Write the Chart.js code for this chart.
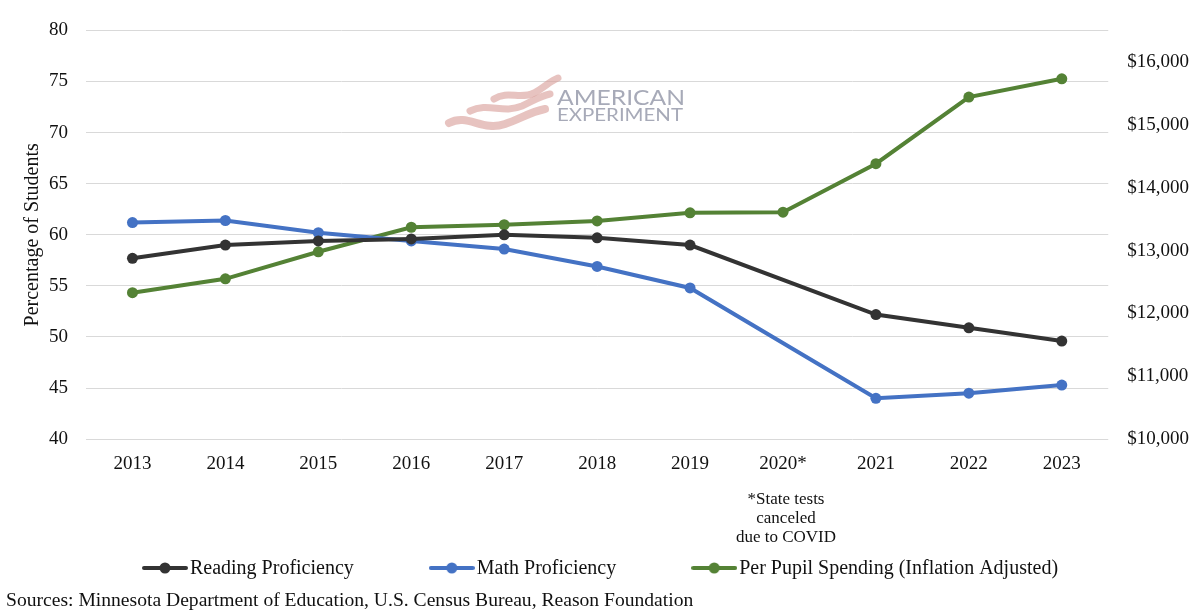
<!DOCTYPE html>
<html>
<head>
<meta charset="utf-8">
<script src="https://cdn.jsdelivr.net/npm/chart.js@4.4.0/dist/chart.umd.min.js"></script>
<style>
  html, body { margin: 0; padding: 0; background: #fff; }
  #wrap { width: 1200px; height: 612px; }
</style>
</head>
<body>
<div id="wrap"><canvas id="chart"></canvas></div>
<script>
// data
const years = ['2013', '2014', '2015', '2016', '2017', '2018', '2019', '2020*', '2021', '2022', '2023'];
const reading = [57.7, 59.0, 59.4, 59.6, 60.0, 59.7, 59.0, null, 52.2, 50.9, 49.6];
const math = [61.2, 61.4, 60.2, 59.4, 58.6, 56.9, 54.8, null, 44.0, 44.5, 45.3];
const spending = [12330, 12550, 12980, 13370, 13410, 13470, 13600, 13610, 14380, 15440, 15730];
const spendTicks = [10000, 11000, 12000, 13000, 14000, 15000, 16000];
const footnote = ['*State tests', 'canceled', 'due to COVID'];
const sourceText = 'Sources: Minnesota Department of Education, U.S. Census Bureau, Reason Foundation';

const SERIF = '"Liberation Serif", "Times New Roman", serif';
const colReading = '#333333';
const colMath = '#4472c4';
const colSpend = '#548235';

// little line+dot marker used in the legend
function legendMarker(color) {
  const c = document.createElement('canvas');
  c.width = 46; c.height = 12;
  const g = c.getContext('2d');
  g.strokeStyle = color;
  g.lineWidth = 4;
  g.lineCap = 'round';
  g.beginPath(); g.moveTo(2, 6); g.lineTo(44, 6); g.stroke();
  g.fillStyle = color;
  g.beginPath(); g.arc(23, 6, 5.5, 0, Math.PI * 2); g.fill();
  return c;
}
const markers = [legendMarker(colReading), legendMarker(colMath), legendMarker(colSpend)];

const extras = {
  id: 'extras',
  beforeDatasetsDraw(chart) {
    // watermark logo
    const ctx = chart.ctx;
    ctx.save();
    ctx.strokeStyle = 'rgba(215, 155, 150, 0.6)';
    ctx.lineCap = 'round';
    ctx.lineWidth = 7;
    ctx.beginPath();
    ctx.moveTo(494, 99);
    ctx.bezierCurveTo(508, 90, 520, 100, 534, 93);
    ctx.bezierCurveTo(545, 87, 550, 81, 558, 78);
    ctx.stroke();
    ctx.beginPath();
    ctx.moveTo(470, 111);
    ctx.bezierCurveTo(488, 102, 503, 114, 522, 106);
    ctx.bezierCurveTo(533, 101, 540, 96, 550, 94);
    ctx.stroke();
    ctx.lineWidth = 8;
    ctx.beginPath();
    ctx.moveTo(449, 123);
    ctx.bezierCurveTo(468, 113, 482, 132, 505, 124);
    ctx.bezierCurveTo(520, 119, 530, 112, 545, 109);
    ctx.stroke();

    ctx.fillStyle = '#a7aab8';
    ctx.textBaseline = 'alphabetic';
    ctx.textAlign = 'left';
    ctx.font = '21px Lato, "Open Sans", sans-serif';
    let w = ctx.measureText('AMERICAN').width;
    ctx.setTransform(128 / w, 0, 0, 1, 557, 105);
    ctx.fillText('AMERICAN', 0, 0);
    ctx.setTransform(1, 0, 0, 1, 0, 0);
    ctx.font = '18px Lato, "Open Sans", sans-serif';
    w = ctx.measureText('EXPERIMENT').width;
    ctx.setTransform(126 / w, 0, 0, 1, 557, 121);
    ctx.fillText('EXPERIMENT', 0, 0);
    ctx.restore();
  },
  afterDraw(chart) {
    const ctx = chart.ctx;
    const xs = chart.scales.x;
    ctx.save();
    ctx.fillStyle = '#111';
    ctx.textBaseline = 'middle';

    // footnote under 2020*
    ctx.font = '17px ' + SERIF;
    ctx.textAlign = 'center';
    const fx = xs.getPixelForTick(7) + 3;
    footnote.forEach((t, i) => ctx.fillText(t, fx, 500 + i * 19));

    // legend
    ctx.font = '20px ' + SERIF;
    ctx.textAlign = 'left';
    const items = chart.data.datasets.map((d, i) => ({ text: d.label, marker: markers[i] }));
    const gap = 75;
    let total = 0;
    items.forEach(it => { it.w = 48 + ctx.measureText(it.text).width; total += it.w; });
    total += gap * (items.length - 1);
    let x = 600 - total / 2;
    const ly = 568;
    items.forEach(it => {
      ctx.drawImage(it.marker, x, ly - 6);
      ctx.fillText(it.text, x + 48, ly + 1);
      x += it.w + gap;
    });

    // sources
    ctx.font = '19.6px ' + SERIF;
    ctx.fillText(sourceText, 6, 601);
    ctx.restore();
  }
};

function lineSet(label, data, color, axis) {
  return {
    label: label,
    data: data,
    yAxisID: axis,
    borderColor: color,
    backgroundColor: color,
    borderWidth: 4,
    pointRadius: 5.5,
    pointHoverRadius: 5.5,
    pointBackgroundColor: color,
    pointBorderWidth: 0,
    spanGaps: true,
    tension: 0
  };
}

new Chart(document.getElementById('chart'), {
  type: 'line',
  data: {
    labels: years,
    datasets: [
      lineSet('Reading Proficiency', reading, colReading, 'y'),
      lineSet('Math Proficiency', math, colMath, 'y'),
      lineSet('Per Pupil Spending (Inflation Adjusted)', spending, colSpend, 'y2')
    ]
  },
  options: {
    responsive: true,
    maintainAspectRatio: false,
    animation: false,
    layout: { padding: { top: 11, left: 16, right: 11, bottom: 138 } },
    plugins: {
      legend: { display: false },
      tooltip: { enabled: false }
    },
    scales: {
      x: {
        offset: true,
        grid: { display: false, drawTicks: false },
        border: { display: false },
        ticks: {
          color: '#111',
          font: { family: SERIF, size: 19 },
          padding: 13,
          maxRotation: 0,
          autoSkip: false
        },
        afterFit: s => { s.height -= 14; }
      },
      y: {
        position: 'left',
        min: 40,
        max: 80,
        grid: { color: '#d9d9d9', lineWidth: 1, drawTicks: false },
        border: { display: false },
        ticks: {
          stepSize: 5,
          color: '#111',
          font: { family: SERIF, size: 19 },
          padding: 18
        },
        title: {
          display: true,
          text: 'Percentage of Students',
          color: '#111',
          font: { family: SERIF, size: 20 },
          padding: { top: 5, bottom: 4 }
        },
        afterFit: s => { s.width -= 18; }
      },
      y2: {
        position: 'right',
        min: 10000,
        max: 16500,
        grid: { display: false, drawTicks: false },
        border: { display: false },
        afterBuildTicks: s => { s.ticks = spendTicks.map(v => ({ value: v })); },
        ticks: {
          autoSkip: false,
          color: '#111',
          font: { family: SERIF, size: 19 },
          padding: 19,
          callback: v => '$' + Number(v).toLocaleString('en-US')
        },
        afterFit: s => { s.width -= 19; }
      }
    }
  },
  plugins: [extras]
});
</script>
</body>
</html>
